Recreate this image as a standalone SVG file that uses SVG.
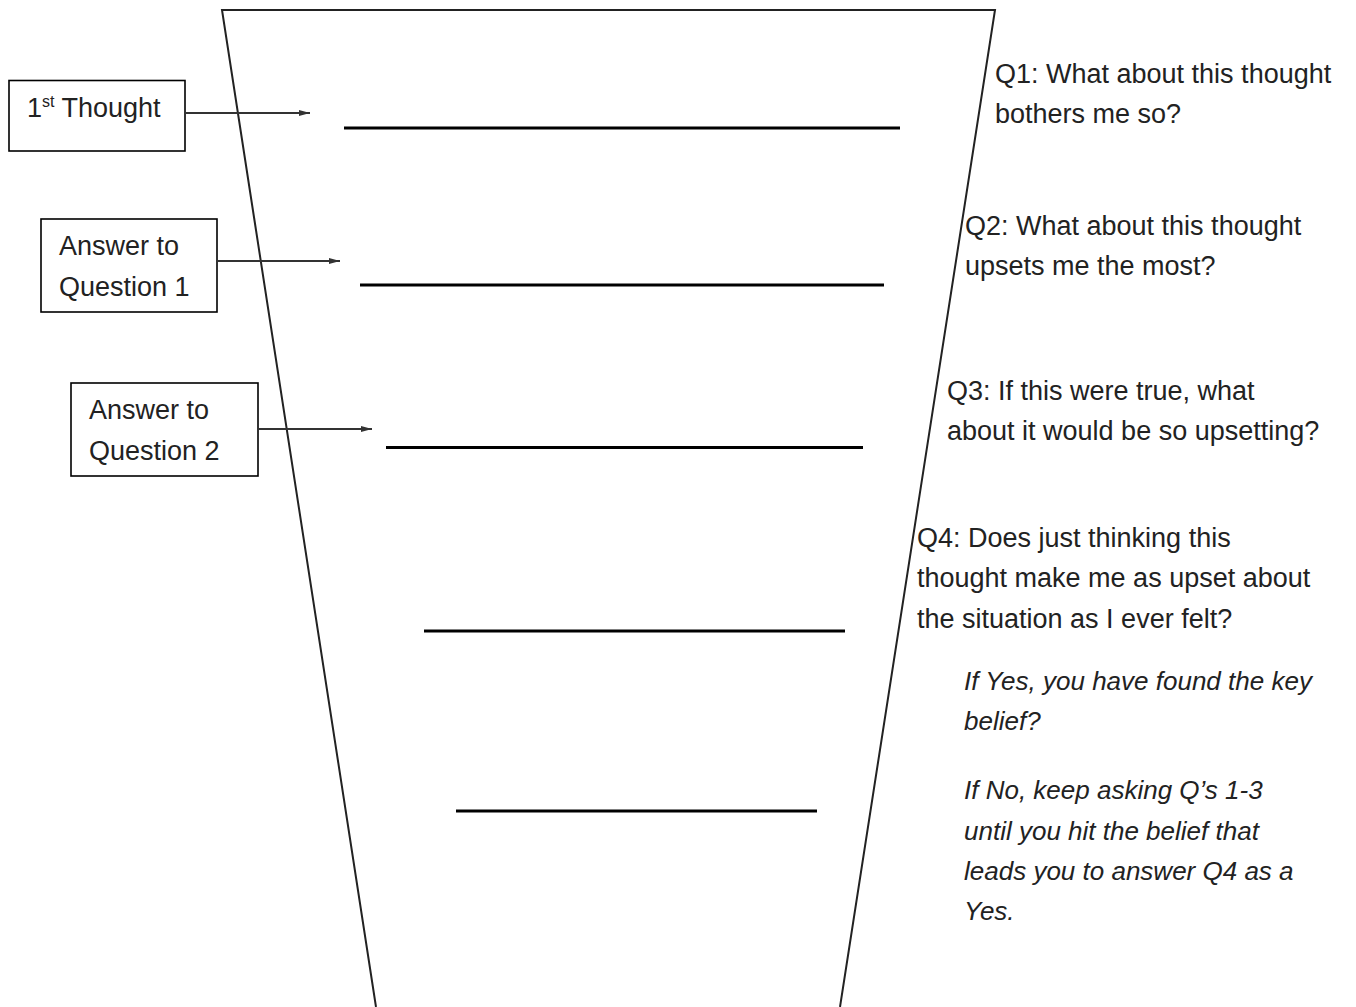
<svg xmlns="http://www.w3.org/2000/svg" width="1356" height="1007" viewBox="0 0 1356 1007">
<style>
.box{fill:#fff;stroke:#000;stroke-width:1.6}
.t{font-family:"Liberation Sans",Arial,sans-serif;font-size:27px;fill:#222}
.i{font-style:italic;font-size:26px}
.rule{stroke:#000;stroke-width:3;fill:none}
.funnel{stroke:#222;stroke-width:2;fill:none}
.arrow{stroke:#333;stroke-width:2.2;fill:none;marker-end:url(#ah)}
</style>
<defs>
<marker id="ah" markerWidth="12" markerHeight="8" refX="11" refY="4" orient="auto" markerUnits="userSpaceOnUse">
<path d="M0,1 L11,4 L0,7 Z" fill="#333"/>
</marker>
</defs>
<rect width="1356" height="1007" fill="#fff"/>
<g id="funnel">
<path class="funnel" d="M376,1007 L222,10 L995,10 L840,1007"/>
</g>
<g id="rules">
<line class="rule" x1="344" y1="128" x2="900" y2="128"/>
<line class="rule" x1="360" y1="285" x2="884" y2="285"/>
<line class="rule" x1="386" y1="447.5" x2="863" y2="447.5"/>
<line class="rule" x1="424" y1="631" x2="845" y2="631"/>
<line class="rule" x1="456" y1="811" x2="817" y2="811"/>
</g>
<g id="node-thought">
<rect class="box" x="9" y="80.5" width="176" height="70.5"/>
<text class="t" x="27" y="117">1<tspan font-size="16" dy="-10">st</tspan><tspan dy="10"> Thought</tspan></text>
</g>
<g id="node-answer1">
<rect class="box" x="41" y="219" width="176" height="93"/>
<text class="t" x="59" y="255">Answer to</text>
<text class="t" x="59" y="296">Question 1</text>
</g>
<g id="node-answer2">
<rect class="box" x="71" y="383" width="187" height="93"/>
<text class="t" x="89" y="419">Answer to</text>
<text class="t" x="89" y="460">Question 2</text>
</g>
<g id="connectors">
<line class="arrow" x1="186" y1="113" x2="310" y2="113"/>
<line class="arrow" x1="217" y1="261" x2="340" y2="261"/>
<line class="arrow" x1="258" y1="429" x2="372" y2="429"/>
</g>
<g id="questions">
<text class="t" x="995" y="83">Q1: What about this thought</text>
<text class="t" x="995" y="123">bothers me so?</text>
<text class="t" x="965" y="235">Q2: What about this thought</text>
<text class="t" x="965" y="275">upsets me the most?</text>
<text class="t" x="947" y="400">Q3: If this were true, what</text>
<text class="t" x="947" y="440">about it would be so upsetting?</text>
<text class="t" x="917" y="547">Q4: Does just thinking this</text>
<text class="t" x="917" y="587">thought make me as upset about</text>
<text class="t" x="917" y="628">the situation as I ever felt?</text>
</g>
<g id="notes">
<text class="t i" x="964" y="690">If Yes, you have found the key</text>
<text class="t i" x="964" y="730">belief?</text>
<text class="t i" x="964" y="799">If No, keep asking Q’s 1-3</text>
<text class="t i" x="964" y="840">until you hit the belief that</text>
<text class="t i" x="964" y="880">leads you to answer Q4 as a</text>
<text class="t i" x="964" y="920">Yes.</text>
</g>
</svg>
